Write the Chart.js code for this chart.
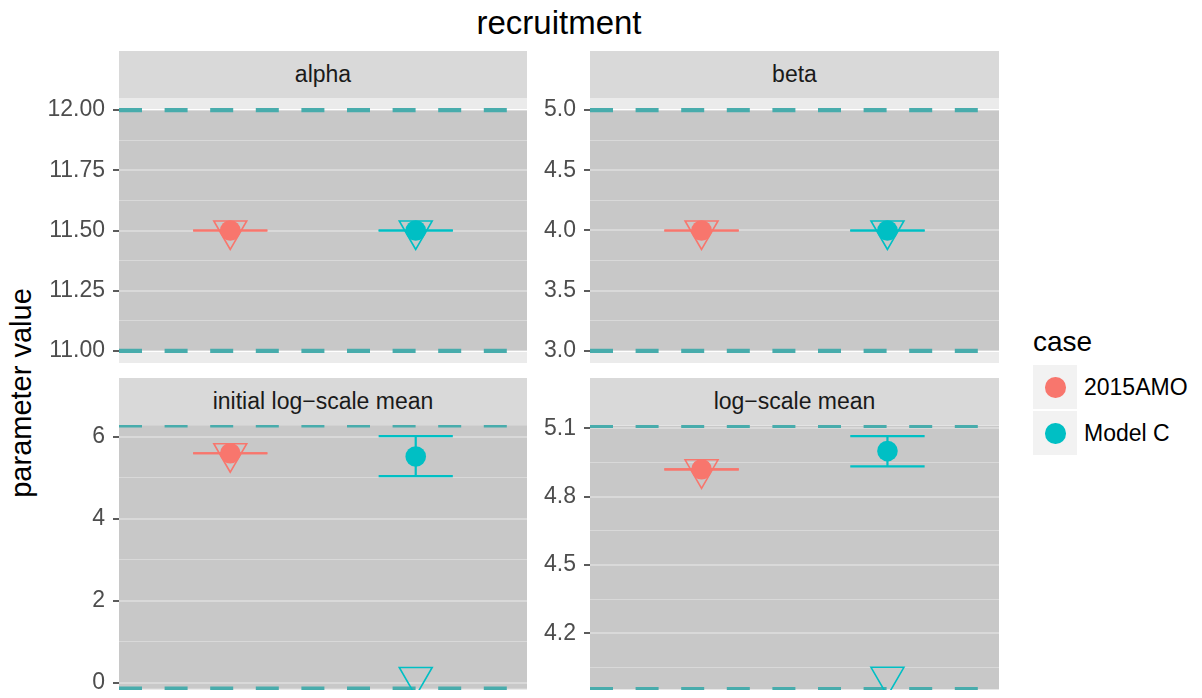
<!DOCTYPE html>
<html>
<head>
<meta charset="utf-8">
<script src="https://cdn.jsdelivr.net/npm/chart.js@4.4.1/dist/chart.umd.min.js"></script>
<style>
  body { margin: 0; background: #fff; font-family: "Liberation Sans", Arial, Helvetica, sans-serif; }
  #wrap { position: relative; width: 1202px; height: 698px; overflow: hidden; }
  canvas { position: absolute; }
  .strip { position: absolute; height: 47px; background: #D9D9D9; color: #1A1A1A; font-size: 23px;
           display: flex; align-items: center; justify-content: center; white-space: nowrap; }
  #title { position: absolute; left: 119px; width: 880px; top: 4px; line-height: 38px; font-size: 33px;
           text-align: center; color: #000; }
  #ytitle { position: absolute; left: 21px; top: 393px; font-size: 29px; line-height: 33px; white-space: nowrap;
            transform: translate(-50%, -50%) rotate(-90deg); color: #000; }
  #legTitle { position: absolute; left: 1033px; top: 326px; font-size: 28px; line-height: 32px; color: #000; }
  .key { position: absolute; left: 1033px; width: 44px; height: 44px; background: #F2F2F2; }
  .dot { position: absolute; left: 12px; top: 12px; width: 20.6px; height: 20.6px; border-radius: 50%; }
  .keyLabel { position: absolute; left: 1084px; font-size: 23px; line-height: 28px; color: #000; white-space: nowrap; }
</style>
</head>
<body>
<div id="wrap">
  <div id="title">recruitment</div>
  <div id="ytitle">parameter value</div>

  <div class="strip" style="left:119px; top:51px; width:408px;">alpha</div>
  <div class="strip" style="left:590px; top:51px; width:409px;">beta</div>
  <div class="strip" style="left:119px; top:378px; width:408px;">initial log−scale mean</div>
  <div class="strip" style="left:590px; top:378px; width:409px;">log−scale mean</div>

  <canvas id="pAlpha" width="527" height="277" style="left:0; top:92px;"></canvas>
  <canvas id="pBeta" width="472" height="277" style="left:527px; top:92px;"></canvas>
  <canvas id="pInit" width="527" height="286" style="left:0; top:412px;"></canvas>
  <canvas id="pLog" width="472" height="286" style="left:527px; top:412px;"></canvas>

  <div id="legTitle">case</div>
  <div id="legend"></div>
</div>

<script>
const caseNames = ['2015AMO', 'Model C'];
const caseColors = ['#F8766D', '#00BFC4'];
const caseX = [1, 2];
const boundColor = '#48ACAC';

// alpha
const alphaEst = [11.5, 11.5];
const alphaLow = [11.5, 11.5];
const alphaHigh = [11.5, 11.5];
const alphaStart = [11.5, 11.5];
const alphaBounds = [11, 12];
const alphaTicks = [11, 11.25, 11.5, 11.75, 12];
const alphaLabels = ['11.00', '11.25', '11.50', '11.75', '12.00'];
const alphaRange = [10.95, 12.05];

// beta
const betaEst = [4, 4];
const betaLow = [4, 4];
const betaHigh = [4, 4];
const betaStart = [4, 4];
const betaBounds = [3, 5];
const betaTicks = [3, 3.5, 4, 4.5, 5];
const betaLabels = ['3.0', '3.5', '4.0', '4.5', '5.0'];
const betaRange = [2.9, 5.1];

// initial log-scale mean
const initEst = [5.6, 5.52];
const initLow = [5.6, 5.04];
const initHigh = [5.6, 6.02];
const initStart = [5.6, 0.14];
const initBounds = [-0.146, 6.283];
const initTicks = [0, 2, 4, 6];
const initLabels = ['0', '2', '4', '6'];
const initRange = [-0.178, 6.29];

// log-scale mean
const logEst = [4.92, 5.0];
const logLow = [4.92, 4.933];
const logHigh = [4.92, 5.066];
const logStart = [4.92, 4.009];
const logBounds = [3.955, 5.111];
const logTicks = [4.2, 4.5, 4.8, 5.1];
const logLabels = ['4.2', '4.5', '4.8', '5.1'];
const logRange = [3.951, 5.1145];

const xMin = 0.4, xMax = 2.6;   // discrete axis with ggplot's 0.6 expansion
const capHalf = 0.2;

// panel background + shaded band between the bounds
const panelBg = {
  id: 'panelBg',
  beforeDraw(chart) {
    const { ctx, chartArea: a } = chart;
    ctx.save();
    ctx.fillStyle = '#EBEBEB';
    ctx.fillRect(a.left, a.top, a.width, a.height);
    ctx.restore();
  },
  beforeDatasetsDraw(chart, args, opts) {
    const { ctx, chartArea: a } = chart;
    const y = chart.scales.y;
    const top = y.getPixelForValue(opts.bounds[1]);
    const bot = y.getPixelForValue(opts.bounds[0]);
    ctx.save();
    ctx.beginPath();
    ctx.rect(a.left, a.top, a.width, a.height);
    ctx.clip();
    ctx.fillStyle = 'rgba(0,0,0,0.15)';
    ctx.fillRect(a.left, top, a.width, bot - top);
    ctx.restore();
  }
};

const seg = (x1, y1, x2, y2, color, width, dash, order) => ({
  data: [{ x: x1, y: y1 }, { x: x2, y: y2 }],
  showLine: true, borderColor: color, borderWidth: width, borderDash: dash,
  pointRadius: 0, order: order, clip: 0
});

function drawPanel(id, est, low, high, start, bounds, ticks, labels, range, axisWidth, pad) {
  const datasets = [];
  bounds.forEach(b => datasets.push(seg(xMin, b, xMax, b, boundColor, 4.3, [23, 22.6], 4)));
  caseX.forEach((x, i) => {
    datasets.push(seg(x - capHalf, high[i], x + capHalf, high[i], caseColors[i], 2.2, [], 3));
    datasets.push(seg(x - capHalf, low[i], x + capHalf, low[i], caseColors[i], 2.2, [], 3));
    datasets.push(seg(x, low[i], x, high[i], caseColors[i], 2.2, [], 3));
  });
  datasets.push({
    data: caseX.map((x, i) => ({ x: x, y: start[i] })),
    pointStyle: 'triangle', pointRotation: 180, pointRadius: 19,
    pointBorderWidth: 1.6, pointBorderColor: caseColors,
    pointBackgroundColor: 'rgba(0,0,0,0)', order: 2, clip: 0
  });
  datasets.push({
    data: caseX.map((x, i) => ({ x: x, y: est[i] })),
    pointRadius: 10.3, pointBorderWidth: 0, pointBackgroundColor: caseColors,
    order: 1, clip: 0
  });

  const step = ticks[1] - ticks[0];
  const minors = [ticks[0] - step, ...ticks].map(v => v + step / 2)
    .filter(v => v > range[0] && v < range[1]);
  const labelFor = v => {
    const k = ticks.findIndex(t => Math.abs(t - v) < 1e-9);
    return k < 0 ? '' : labels[k];
  };

  new Chart(document.getElementById(id), {
    type: 'scatter',
    data: { datasets },
    options: {
      responsive: false, animation: false, devicePixelRatio: 1, events: [],
      layout: { autoPadding: false, padding: { left: 0, right: 0, top: pad[0], bottom: pad[1] } },
      plugins: { legend: { display: false }, tooltip: { enabled: false }, panelBg: { bounds } },
      scales: {
        x: { type: 'linear', min: xMin, max: xMax, display: false },
        y: {
          type: 'linear', min: range[0], max: range[1],
          afterBuildTicks: s => {
            s.ticks = ticks.map(v => ({ value: v }))
              .concat(minors.map(v => ({ value: v, minor: true })))
              .sort((a, b) => a.value - b.value);
          },
          afterFit: s => { s.width = axisWidth; s.paddingTop = 0; s.paddingBottom = 0; },
          ticks: {
            autoSkip: false, padding: 8, color: '#4D4D4D',
            font: { family: '"Liberation Sans", Arial, sans-serif', size: 23 },
            callback: (v, i, t) => t[i].minor ? '' : labelFor(v)
          },
          grid: {
            color: '#FFFFFF',
            lineWidth: c => (c.tick && c.tick.minor) ? 1 : 2,
            tickLength: 6,
            tickWidth: 1.6,
            tickColor: c => (c.tick && c.tick.minor) ? 'rgba(0,0,0,0)' : '#333333'
          },
          border: { display: false }
        }
      }
    },
    plugins: [panelBg]
  });
}

drawPanel('pAlpha', alphaEst, alphaLow, alphaHigh, alphaStart, alphaBounds, alphaTicks, alphaLabels, alphaRange, 119, [6, 6]);
drawPanel('pBeta', betaEst, betaLow, betaHigh, betaStart, betaBounds, betaTicks, betaLabels, betaRange, 63, [6, 6]);
drawPanel('pInit', initEst, initLow, initHigh, initStart, initBounds, initTicks, initLabels, initRange, 119, [13, 8]);
drawPanel('pLog', logEst, logLow, logHigh, logStart, logBounds, logTicks, logLabels, logRange, 63, [13, 8]);

// legend
const legend = document.getElementById('legend');
caseNames.forEach((name, i) => {
  const top = 365 + i * 46;
  const key = document.createElement('div');
  key.className = 'key';
  key.style.top = top + 'px';
  const dot = document.createElement('div');
  dot.className = 'dot';
  dot.style.background = caseColors[i];
  key.appendChild(dot);
  legend.appendChild(key);
  const lab = document.createElement('div');
  lab.className = 'keyLabel';
  lab.style.top = (top + 8) + 'px';
  lab.textContent = name;
  legend.appendChild(lab);
});
</script>
</body>
</html>
